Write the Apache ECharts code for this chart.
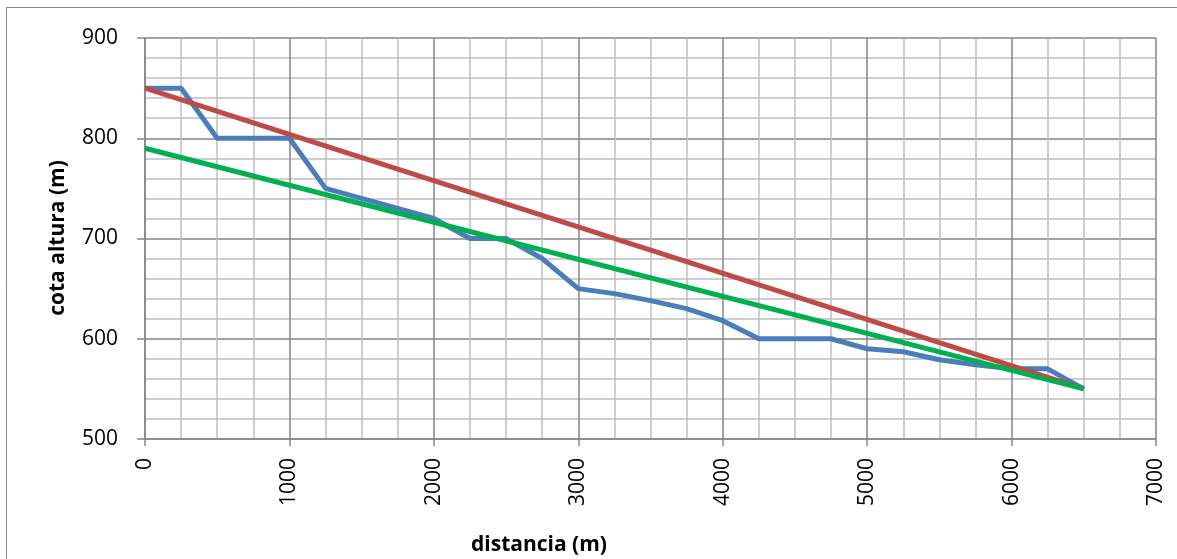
<!DOCTYPE html>
<html>
<head>
<meta charset="utf-8">
<script src="https://cdn.jsdelivr.net/npm/echarts@6/dist/echarts.min.js"></script>
<style>
html,body{margin:0;padding:0;background:#fff;}
#c{width:1177px;height:559px;}
</style>
</head>
<body>
<div id="c"></div>
<script>
// Data
const profileX = [0, 250, 500, 1000, 1250, 1500, 1750, 2000, 2250, 2500, 2750, 3000, 3250, 3500, 3750, 4000, 4250, 4500, 4750, 5000, 5250, 5500, 5750, 6000, 6250, 6500];
const profileY = [850, 850, 800, 800, 750, 740, 730, 720, 700, 700, 680, 650, 645, 638, 630, 618, 600, 600, 600, 590, 587, 579, 574, 570, 570, 550];
const redX = [0, 6500];
const redY = [850, 550];
const greenX = [0, 6500];
const greenY = [790, 550];
const xTitle = 'distancia (m)';
const yTitle = 'cota altura (m)';

const pairs = (xs, ys) => xs.map((x, i) => [x, ys[i]]);

const chart = echarts.init(document.getElementById('c'));
const font = '"Open Sans", "Noto Sans", sans-serif';
chart.setOption({
  animation: false,
  backgroundColor: '#fff',
  grid: { left: 145, right: 21, top: 38, bottom: 120, containLabel: false },
  xAxis: {
    type: 'value', min: 0, max: 7000, interval: 1000,
    axisLine: { show: true, lineStyle: { color: '#868686', width: 1.5 } },
    axisTick: { show: true, length: 7, lineStyle: { color: '#868686', width: 1.5 } },
    axisLabel: { rotate: 90, margin: 19, fontSize: 21, color: '#000', fontFamily: font, formatter: v => String(v) },
    splitLine: { show: true, lineStyle: { color: '#868686', width: 1.5 } },
    minorTick: { show: false, splitNumber: 4 },
    minorSplitLine: { show: true, lineStyle: { color: '#bfbfbf', width: 1.5 } }
  },
  yAxis: {
    type: 'value', min: 500, max: 900, interval: 100,
    axisLine: { show: true, lineStyle: { color: '#868686', width: 1.5 } },
    axisTick: { show: true, length: 8, lineStyle: { color: '#868686', width: 1.5 } },
    axisLabel: { margin: 27, fontSize: 21, color: '#000', fontFamily: font, formatter: v => String(v) },
    splitLine: { show: true, lineStyle: { color: '#868686', width: 1.5 } },
    minorTick: { show: false, splitNumber: 5 },
    minorSplitLine: { show: true, lineStyle: { color: '#bfbfbf', width: 1.5 } }
  },
  series: [
    { type: 'line', data: pairs(profileX, profileY), showSymbol: false, lineStyle: { color: '#4A7EBB', width: 5 }, z: 2 },
    { type: 'line', data: pairs(redX, redY), showSymbol: false, lineStyle: { color: '#BE4B48', width: 5 }, z: 3 },
    { type: 'line', data: pairs(greenX, greenY), showSymbol: false, lineStyle: { color: '#00B050', width: 5 }, z: 4 }
  ],
  graphic: [
    { type: 'rect', shape: { x: 6.5, y: 7.5, width: 1300, height: 700 }, style: { fill: 'none', stroke: '#868686', lineWidth: 1 }, silent: true },
    { type: 'text', x: 539, y: 545, style: { text: xTitle, font: 'bold 21px ' + font, fill: '#000', textAlign: 'center', textVerticalAlign: 'middle' } },
    { type: 'text', x: 58, y: 238, rotation: Math.PI / 2, style: { text: yTitle, font: 'bold 21px ' + font, fill: '#000', textAlign: 'center', textVerticalAlign: 'middle' } }
  ]
});
</script>
</body>
</html>
